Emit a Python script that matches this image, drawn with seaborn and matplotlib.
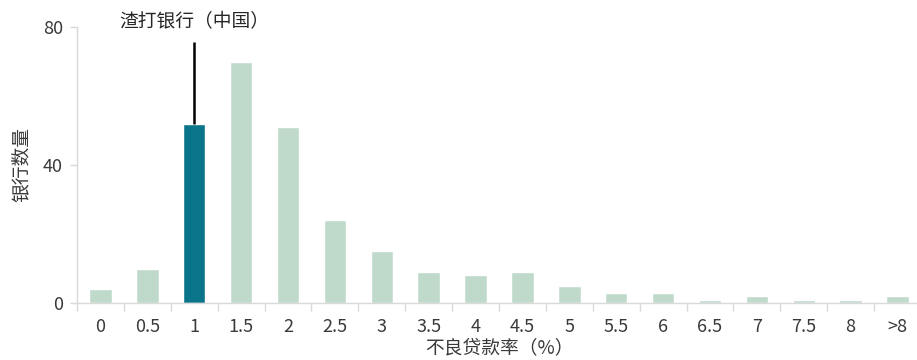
import matplotlib
matplotlib.use("Agg")
import matplotlib.pyplot as plt
import seaborn as sns

categories = ["0", "0.5", "1", "1.5", "2", "2.5", "3", "3.5", "4", "4.5",
              "5", "5.5", "6", "6.5", "7", "7.5", "8", ">8"]
bank_counts = [4, 10, 52, 70, 51, 24, 15, 9, 8, 9, 5, 3, 3, 1, 2, 1, 1, 2]
highlight_category = "1"
highlight_label = "渣打银行（中国）"
y_ticks = [0, 40, 80]
x_label = "不良贷款率（%）"
y_label = "银行数量"

light = "#bfdacb"
dark = "#0a748a"
grid_gray = "#d9d9d9"
text_color = "#3a3a3a"

sns.set_theme(style="white")
plt.rcParams["font.family"] = ["Noto Sans CJK SC", "DejaVu Sans"]
plt.rcParams["font.weight"] = "light"

fig = plt.figure(figsize=(9.17, 3.6), dpi=100)
ax = fig.add_axes([77 / 917, 1 - 303 / 360, (921 - 77) / 917, 276 / 360])

colors = [dark if c == highlight_category else light for c in categories]
sns.barplot(x=categories, y=bank_counts, hue=categories, palette=colors,
            legend=False, width=0.48, ax=ax, saturation=1)

ax.set_ylim(0, 80)
ax.set_xlim(-0.5, len(categories) - 0.5)
ax.set_yticks(y_ticks)

for s in ["top", "right"]:
    ax.spines[s].set_visible(False)
for s in ["left", "bottom"]:
    ax.spines[s].set_color(grid_gray)
    ax.spines[s].set_linewidth(1)

ax.tick_params(axis="y", which="major", left=True, length=5, width=1,
               color=grid_gray, labelsize=13, labelcolor=text_color, pad=5)
ax.tick_params(axis="x", which="major", bottom=True, length=0,
               labelsize=13, labelcolor=text_color, pad=11)
ax.set_xticks([i - 0.5 for i in range(len(categories) + 1)], minor=True)
ax.tick_params(axis="x", which="minor", bottom=True, length=6, width=1,
               color=grid_gray)

ax.set_xlabel(x_label, fontsize=13.5, color=text_color, labelpad=1)
ax.set_ylabel(y_label, fontsize=13.5, color=text_color, labelpad=8)

idx = categories.index(highlight_category)
ax.vlines(idx, bank_counts[idx], 75.7, color="black", lw=1.8, clip_on=False)
ax.text(idx, 81.6, highlight_label, ha="center", va="center", fontsize=13.5,
        color="#262626", clip_on=False)

fig.savefig("out.png", dpi=100)
